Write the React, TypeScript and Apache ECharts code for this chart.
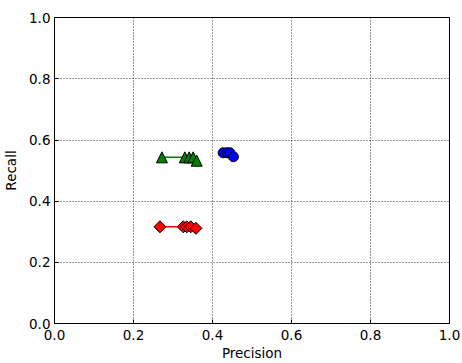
import React, { useEffect, useRef } from "react";
import * as echarts from "echarts";

const greenX = [0.272, 0.33, 0.341, 0.351, 0.36];
const greenY = [0.543, 0.543, 0.543, 0.543, 0.532];
const blueX = [0.427, 0.437, 0.444, 0.453];
const blueY = [0.558, 0.558, 0.558, 0.545];
const redX = [0.267, 0.326, 0.335, 0.345, 0.358];
const redY = [0.316, 0.316, 0.316, 0.316, 0.311];
const tickLabels = ["0.0", "0.2", "0.4", "0.6", "0.8", "1.0"];

const font = "DejaVu Sans";

function pairs(xs: number[], ys: number[]) {
  return xs.map((x, i) => [x, ys[i]]);
}

export default function App() {
  const ref = useRef<HTMLDivElement>(null);
  useEffect(() => {
    const chart = echarts.init(ref.current!, undefined, { renderer: "svg" });
    const axisCommon = {
      min: 0,
      max: 1,
      interval: 0.2,
      axisLine: { show: true, onZero: false, lineStyle: { color: "#000", width: 1 } },
      axisTick: { show: true, inside: true, length: 4, lineStyle: { color: "#000" } },
      splitLine: { show: true, lineStyle: { color: "#000", type: [1, 2], width: 0.8 } },
      axisLabel: {
        color: "#000",
        fontFamily: font,
        fontSize: 13.5,
        formatter: (v: number) => tickLabels[Math.round(v * 5)],
      },
      nameTextStyle: { color: "#000", fontFamily: font, fontSize: 13.5 },
      nameLocation: "middle" as const,
    };
    const mk = (name: string, xs: number[], ys: number[], color: string, symbol: string, size: number) => ({
      name,
      type: "line",
      data: pairs(xs, ys),
      symbol,
      symbolSize: size,
      showSymbol: true,
      lineStyle: { color, width: 1.5 },
      itemStyle: { color, borderColor: "#000", borderWidth: 1 },
      z: 3,
    });
    chart.setOption({
      animation: false,
      backgroundColor: "#fff",
      grid: {
        left: 54.5,
        top: 17.5,
        width: 395,
        height: 306,
        show: false,
        containLabel: false,
        outerBoundsMode: "none",
      },
      xAxis: {
        ...axisCommon,
        type: "value",
        name: "Precision",
        nameGap: 21,
        axisLabel: { ...axisCommon.axisLabel, margin: 4 },
      },
      yAxis: {
        ...axisCommon,
        type: "value",
        name: "Recall",
        nameGap: 30,
        axisLabel: { ...axisCommon.axisLabel, margin: 4 },
      },
      series: [
        mk("green", greenX, greenY, "#008000", "triangle", 11),
        mk("blue", blueX, blueY, "#0000ff", "circle", 10),
        mk("red", redX, redY, "#ff0000", "diamond", 12),
        {
          type: "line",
          data: [[0, 1], [1, 1], [1, 0]],
          symbol: "none",
          lineStyle: { color: "#000", width: 1 },
          silent: true,
          z: 1,
        },
      ],
    });
    return () => chart.dispose();
  }, []);
  return <div ref={ref} style={{ position: "fixed", left: 0, top: 0, width: 462, height: 363 }} />;
}
